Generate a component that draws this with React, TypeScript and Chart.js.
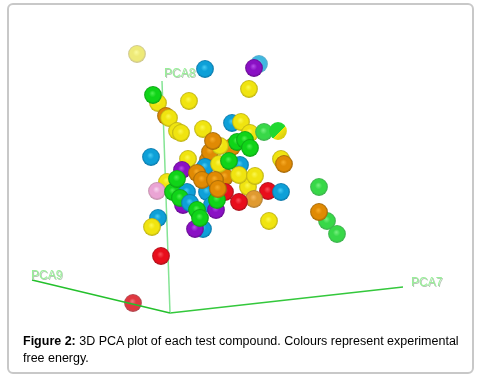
import React, { useEffect, useRef } from "react";
import { Chart, registerables } from "chart.js";

Chart.register(...registerables);

const W = 481;
const H = 379;

// Compounds in back-to-front order.
const compoundX = [137, 205, 259, 254, 249, 158, 153, 166, 169, 177, 181, 189, 203, 232, 241, 250, 264, 278, 232, 237, 245, 250, 151, 188, 182, 225, 208, 210, 220, 213, 205, 240, 219, 229, 248, 239, 255, 281, 284, 268, 281, 254, 239, 269, 319, 327, 319, 337, 167, 225, 207, 212, 216, 217, 197, 202, 215, 218, 157, 183, 173, 187, 180, 190, 197, 203, 195, 200, 177, 158, 152, 161, 133];
const compoundY = [54, 69, 64, 68, 89, 103, 95, 116, 118, 131, 133, 101, 129, 123, 122, 133, 132, 131, 147, 142, 140, 148, 157, 159, 170, 177, 160, 152, 146, 141, 167, 165, 164, 161, 187, 175, 176, 159, 164, 191, 192, 199, 202, 221, 187, 221, 212, 234, 182, 192, 192, 205, 210, 200, 173, 180, 180, 189, 191, 205, 192, 192, 198, 203, 210, 229, 229, 218, 179, 218, 227, 256, 303];
const compoundClass = ["paleYellow", "blue", "paleBlue", "purple", "yellow", "yellow", "green", "orange", "yellow", "yellow", "yellow", "yellow", "yellow", "blue", "yellow", "yellow", "paleGreen", "split", "orange", "green", "green", "green", "blue", "yellow", "purple", "orange", "orange", "orange", "yellow", "orange", "blue", "blue", "yellow", "green", "yellow", "yellow", "yellow", "yellow", "orange", "red", "blue", "paleOrange", "red", "yellow", "paleGreen", "paleGreen", "orange", "paleGreen", "yellow", "red", "blue", "blue", "purple", "green", "orange", "orange", "orange", "orange", "pink", "purple", "green", "blue", "green", "blue", "green", "blue", "purple", "green", "green", "blue", "yellow", "red", "paleRed"];

const axisOrigin = { x: 170, y: 313 };
const axisEnds = { PCA7: { x: 403, y: 287 }, PCA8: { x: 162, y: 81 }, PCA9: { x: 32, y: 280 } };
const axisLabels = [
  { text: "PCA8", x: 164, y: 77 },
  { text: "PCA9", x: 31, y: 279 },
  { text: "PCA7", x: 411, y: 286 },
];

const captionLead = "Figure 2:";
const captionRest = " 3D PCA plot of each test compound. Colours represent experimental free energy.";

const palette: Record<string, [string, string, string]> = {
  yellow: ["#fbf850", "#f0e410", "#b8ac14"],
  paleYellow: ["#fbfba0", "#eeea78", "#c8c090"],
  green: ["#50f050", "#10d418", "#0c9c14"],
  paleGreen: ["#78f080", "#38d848", "#40ac50"],
  orange: ["#f8ac28", "#e08a04", "#9c6408"],
  paleOrange: ["#f8bc60", "#e09a30", "#ac7c34"],
  blue: ["#48ccf4", "#0ea0d8", "#0c74a4"],
  paleBlue: ["#78dcf8", "#40b8e0", "#60acc8"],
  red: ["#f85058", "#e80e1c", "#a4121c"],
  paleRed: ["#f07880", "#e03840", "#ac4c54"],
  purple: ["#b850ec", "#8a10c4", "#640c8c"],
  pink: ["#f8d8f0", "#eaa4d4", "#bc8ca4"],
};

const sphereRadius = 8.9;

function sphereFill(ctx: any) {
  const i = ctx.dataIndex;
  const chart = ctx.chart;
  if (ctx.type !== "data" || i === undefined || !chart.scales.x) return "#f2e60c";
  const px = chart.scales.x.getPixelForValue(compoundX[i]);
  const py = chart.scales.y.getPixelForValue(compoundY[i]);
  if (!Number.isFinite(px) || !Number.isFinite(py)) return "#f2e60c";
  const r = sphereRadius;
  const c = chart.ctx;
  if (compoundClass[i] === "split") {
    const g = c.createLinearGradient(px - r, py - r, px + r, py + r);
    g.addColorStop(0, "#20d830");
    g.addColorStop(0.56, "#20d830");
    g.addColorStop(0.57, "#f2e60c");
    g.addColorStop(1, "#c8bc10");
    return g;
  }
  const [hi, mid, lo] = palette[compoundClass[i]];
  const g = c.createRadialGradient(px - r * 0.08, py - r * 0.22, 0, px, py, r);
  g.addColorStop(0, hi);
  g.addColorStop(0.4, mid);
  g.addColorStop(0.78, mid);
  g.addColorStop(1, lo);
  return g;
}

const axisTextPlugin = {
  id: "axisText",
  afterDatasetsDraw(chart: any) {
    const c = chart.ctx;
    c.save();
    c.font = "12px 'Liberation Sans'";
    c.textBaseline = "alphabetic";
    for (const l of axisLabels) {
      const x = chart.scales.x.getPixelForValue(l.x);
      const y = chart.scales.y.getPixelForValue(l.y);
      c.fillStyle = "#b8c8b8";
      c.fillText(l.text, x + 1, y + 1);
      c.fillStyle = "#98f098";
      c.fillText(l.text, x, y);
    }
    c.restore();
  },
};

function axisDataset(end: { x: number; y: number }, color: string, width: number, order: number) {
  return {
    type: "line" as const,
    data: [axisOrigin, end],
    borderColor: color,
    borderWidth: width,
    pointRadius: 0,
    fill: false,
    order,
  };
}

export default function App() {
  const ref = useRef<HTMLCanvasElement>(null);
  useEffect(() => {
    const chart = new Chart(ref.current as HTMLCanvasElement, {
      type: "scatter",
      data: {
        datasets: [
          axisDataset(axisEnds.PCA8, "#84e494", 1.5, 3),
          axisDataset(axisEnds.PCA7, "#34c83c", 1.5, 3),
          {
            type: "scatter" as const,
            data: compoundX.map((x, i) => ({ x, y: compoundY[i] })),
            backgroundColor: sphereFill,
            borderWidth: 0,
            pointRadius: sphereRadius,
            pointHoverRadius: sphereRadius,
            order: 2,
          },
          axisDataset(axisEnds.PCA9, "#24c02c", 1.5, 1),
        ] as any,
      },
      options: {
        animation: false,
        responsive: false,
        layout: { padding: 0, autoPadding: false },
        plugins: { legend: { display: false }, tooltip: { enabled: false } },
        scales: {
          x: { type: "linear", display: false, min: 0, max: W },
          y: { type: "linear", display: false, min: 0, max: H, reverse: true },
        },
      },
      plugins: [axisTextPlugin],
    });
    return () => chart.destroy();
  }, []);

  return (
    <div style={{ position: "absolute", left: 0, top: 0, width: W, height: H, background: "#fff", overflow: "hidden" }}>
      <canvas ref={ref} width={W} height={H} style={{ position: "absolute", left: 0, top: 0, display: "block" }} />
      <div
        style={{
          position: "absolute",
          left: 7,
          top: 3,
          width: 463,
          height: 367,
          border: "2px solid #c8c8c8",
          borderRadius: 6,
          pointerEvents: "none",
        }}
      />
      <div
        style={{
          position: "absolute",
          left: 23,
          top: 333,
          width: 440,
          fontFamily: "'Liberation Sans', Arial, sans-serif",
          fontSize: 12.5,
          lineHeight: "17px",
          color: "#000",
        }}
      >
        <b>{captionLead}</b>
        {captionRest}
      </div>
    </div>
  );
}
